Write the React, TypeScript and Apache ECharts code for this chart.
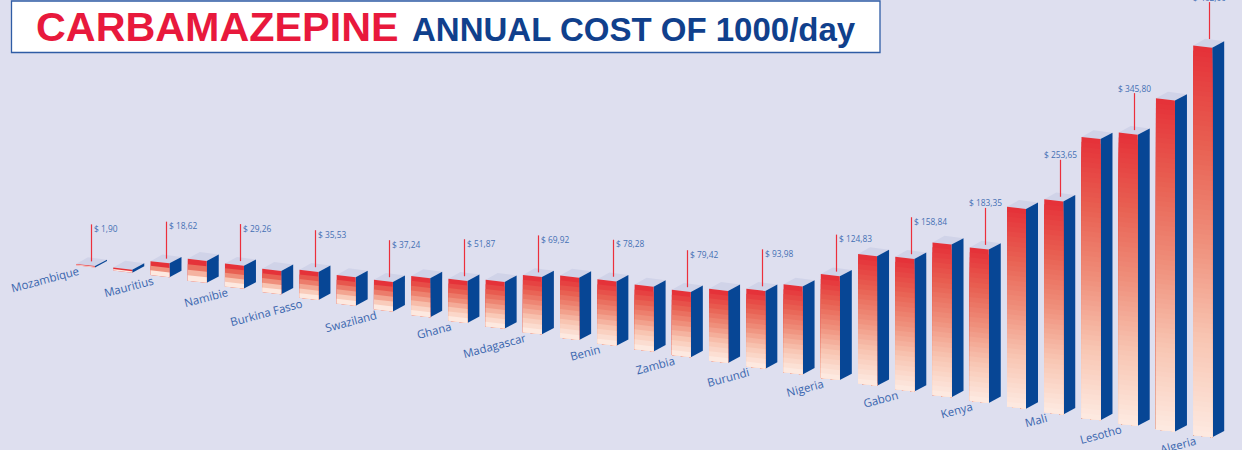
import React, { useEffect, useRef } from "react";
import * as echarts from "echarts";

const countries = ["Mozambique", "", "Mauritius", "", "Namibie", "", "Burkina Fasso", "", "Swaziland", "", "Ghana", "", "Madagascar", "", "Benin", "", "Zambia", "", "Burundi", "", "Nigeria", "", "Gabon", "", "Kenya", "", "Mali", "", "Lesotho", "", "Algeria"];
const costs = [1.9, 4.4, 18.62, 28.3, 29.26, 30, 35.53, 36.1, 37.24, 48.4, 51.87, 57.5, 69.92, 75.9, 78.28, 78.9, 79.42, 87.3, 93.98, 106, 124.83, 155.3, 158.84, 182.5, 183.35, 238, 253.65, 334, 345.8, 393, 462];
const costLabels = ["$ 1,90", "", "$ 18,62", "", "$ 29,26", "", "$ 35,53", "", "$ 37,24", "", "$ 51,87", "", "$ 69,92", "", "$ 78,28", "", "$ 79,42", "", "$ 93,98", "", "$ 124,83", "", "$ 158,84", "", "$ 183,35", "", "$ 253,65", "", "$ 345,80", "", "$ 462,00"];

const rampStops = [
  [0, [229, 50, 57]],
  [0.25, [232, 96, 82]],
  [0.5, [239, 143, 123]],
  [0.75, [248, 197, 178]],
  [1, [253, 233, 224]],
] as const;

function ramp(t: number) {
  for (let k = 1; k < rampStops.length; k++) {
    const [t1, c1] = rampStops[k];
    const [t0, c0] = rampStops[k - 1];
    if (t <= t1) {
      const f = (t - t0) / (t1 - t0);
      return `rgb(${c0.map((c, j) => Math.round(c + (c1[j] - c) * f)).join(",")})`;
    }
  }
  return "rgb(253,233,224)";
}

const PX_PER_INDEX = 37.24;
const UNITS_PER_PX = 1.18;
const FIRST_X = 76;
const FIRST_BASE = 265.5;
const DROP_PER_INDEX = 5.72 * UNITS_PER_PX; // the floor recedes downward, in axis units
const FRONT_W = 19;
const FRONT_SKEW = 2.2;
const SIDE_W = 12;
const SIDE_RISE = 6.4;
const BAND_H = 4.9;
const STEM = 37;

function renderBar(params: any, api: any) {
  const i = api.value(0);
  const v = api.value(1);
  const drop = DROP_PER_INDEX * i;
  const inset = Math.min(2.36, v * 0.2);
  const [xl, yTop] = api.coord([i, v - drop]);
  const [, yBot] = api.coord([i, inset - drop]);
  const xr = xl + FRONT_W;
  const children: any[] = [];

  // top face
  children.push({
    type: "polygon",
    shape: { points: [[xl, yTop], [xr, yTop + FRONT_SKEW], [xr + SIDE_W, yTop + FRONT_SKEW - SIDE_RISE], [xl + SIDE_W, yTop - SIDE_RISE - 0.3]] },
    style: { fill: "#D0D3E8" },
  });
  // side face
  children.push({
    type: "polygon",
    shape: { points: [[xr, yTop + FRONT_SKEW], [xr + SIDE_W, yTop + FRONT_SKEW - SIDE_RISE], [xr + SIDE_W, yBot + FRONT_SKEW - SIDE_RISE], [xr, yBot + FRONT_SKEW]] },
    style: { fill: "#074695" },
  });
  // front face: stepped bands, each painted to the bottom so no seams show
  const h = yBot - yTop;
  const n = Math.max(2, Math.round(h / BAND_H));
  for (let k = 0; k < n; k++) {
    const y0 = yTop + (h * k) / n;
    children.push({
      type: "polygon",
      shape: { points: [[xl, y0], [xr, y0 + FRONT_SKEW], [xr, yBot + FRONT_SKEW], [xl, yBot]] },
      style: { fill: ramp(k / (n - 1)) },
    });
  }

  const country = countries[i];
  if (country) {
    children.push({
      type: "text",
      x: xl + 2.5,
      y: yBot + 5,
      rotation: (15 * Math.PI) / 180,
      style: { text: country, fill: "#3A66AE", font: "11.4px 'Open Sans'", textAlign: "right", textVerticalAlign: "middle" },
    });
  }
  const label = costLabels[i];
  if (label) {
    const sx = Math.round(xl + 15.3) + 0.5;
    const lift = i === costs.length - 1 ? 6.5 : 2.5;
    const sy = yTop - lift;
    children.push({
      type: "line",
      shape: { x1: sx, y1: sy, x2: sx, y2: sy - STEM },
      style: { stroke: "#EC2F3B", lineWidth: 1.2 },
    });
    const above = v > 170;
    children.push({
      type: "text",
      x: above ? sx : sx + 2.5,
      y: above ? sy - STEM - 5 : sy - STEM + 4,
      style: { text: label, fill: "#4470B4", font: "8.4px 'Open Sans'", textAlign: above ? "center" : "left", textVerticalAlign: "middle" },
    });
  }
  return { type: "group", children };
}

export default function App() {
  const ref = useRef<HTMLDivElement>(null);
  useEffect(() => {
    document.body.style.margin = "0";
    const chart = echarts.init(ref.current!, null, { renderer: "svg" });
    const W = 1242;
    const H = 450;
    chart.setOption({
      animation: false,
      backgroundColor: "#DEDFEF",
      grid: { left: 0, right: 0, top: 0, bottom: 0 },
      xAxis: { type: "value", show: false, min: -FIRST_X / PX_PER_INDEX, max: (W - FIRST_X) / PX_PER_INDEX },
      yAxis: { type: "value", show: false, min: -(H - FIRST_BASE) * UNITS_PER_PX, max: FIRST_BASE * UNITS_PER_PX, scale: true },
      series: [{
        type: "custom",
        coordinateSystem: "cartesian2d",
        clip: false,
        encode: { x: 0, y: 1 },
        data: costs.map((v, i) => [i, v]),
        renderItem: renderBar,
      }],
      graphic: [
        { type: "rect", shape: { x: 11.5, y: 1, width: 868.5, height: 51.5 }, style: { fill: "#FFFFFF", stroke: "#2F5CA5", lineWidth: 1.3 } },
        { type: "text", x: 36, y: 27, style: { text: "CARBAMAZEPINE", fill: "#E8193C", font: "bold 41.3px 'Liberation Sans'", textAlign: "left", textVerticalAlign: "middle" } },
        { type: "text", x: 412, y: 29.5, style: { text: "ANNUAL COST OF 1000/day", fill: "#10408C", font: "bold 33px 'Liberation Sans'", textAlign: "left", textVerticalAlign: "middle" } },
      ],
    });
    return () => chart.dispose();
  }, []);
  return <div ref={ref} style={{ width: 1242, height: 450 }} />;
}
